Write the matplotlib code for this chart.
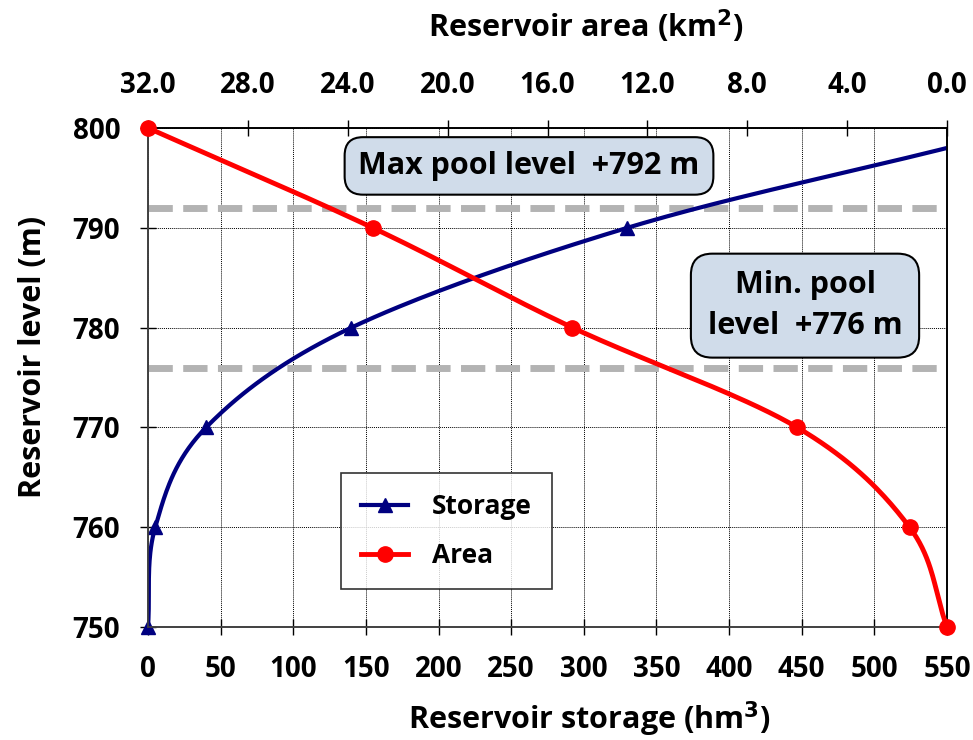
import matplotlib
matplotlib.use("Agg")
import matplotlib.pyplot as plt
import numpy as np

plt.rcParams["font.family"] = ["Open Sans", "DejaVu Sans"]
plt.rcParams["font.weight"] = "bold"

# reservoir level (m) for each curve
level = [750, 760, 770, 780, 790, 798]
storage = [0, 5, 40, 140, 330, 550]  # hm3, last point has no marker
area_level = [800, 790, 780, 770, 760, 750]
area = [32.0, 23.0, 15.0, 6.0, 1.5, 0.0]  # km2

max_pool = 792
min_pool = 776


def smooth(x, y, n=40):
    # catmull-rom, close to excel's smoothed line
    x = np.asarray(x, float)
    y = np.asarray(y, float)
    px = np.concatenate([[2 * x[0] - x[1]], x, [2 * x[-1] - x[-2]]])
    py = np.concatenate([[2 * y[0] - y[1]], y, [2 * y[-1] - y[-2]]])
    xs, ys = [], []
    t = np.linspace(0, 1, n)
    for i in range(1, len(px) - 2):
        for p, out in ((px, xs), (py, ys)):
            p0, p1, p2, p3 = p[i - 1], p[i], p[i + 1], p[i + 2]
            out.append(0.5 * ((2 * p1) + (-p0 + p2) * t
                              + (2 * p0 - 5 * p1 + 4 * p2 - p3) * t ** 2
                              + (-p0 + 3 * p1 - 3 * p2 + p3) * t ** 3))
    return np.concatenate(xs), np.concatenate(ys)


fig = plt.figure(figsize=(9.73, 7.40), dpi=100)
ax = fig.add_axes([148 / 973, 1 - 627 / 740, 799 / 973, 499 / 740])
ax2 = ax.twiny()

navy = "#000080"
red = "#ff0000"

sx, sy = smooth(storage, level)
ax.plot(sx, sy, color=navy, lw=3, zorder=4)
ax.plot(storage[:-1], level[:-1], ls="none", marker="^", ms=10, color=navy,
        zorder=5, clip_on=False)

ax.axhline(max_pool, color="#b3b3b3", lw=5, dashes=(3.5, 1.5), zorder=2)
ax.axhline(min_pool, color="#b3b3b3", lw=5, dashes=(3.5, 1.5), zorder=2)

ax.set_xlim(0, 550)
ax.set_ylim(750, 800)
ax.set_xticks(np.arange(0, 551, 50))
ax.set_yticks(np.arange(750, 801, 10))
ax.grid(True, color="black", ls=(0, (1, 1)), lw=0.7)
ax.tick_params(axis="x", direction="inout", length=12, width=1, labelsize=20, pad=14)
ax.tick_params(axis="y", direction="inout", length=12, width=1, labelsize=20, pad=14)
ax.set_xlabel("Reservoir storage (hm$^{\\mathbf{3}}$)", fontsize=22, fontweight="bold", labelpad=11)
ax.set_ylabel("Reservoir level (m)", fontsize=22, fontweight="bold", labelpad=18)
ax.xaxis.label.set_x(0.552)
ax.yaxis.label.set_y(0.541)

ax2x, ax2y = smooth(area, area_level)
ax2.plot(ax2x, ax2y, color=red, lw=3.5, zorder=4)
ax2.plot(area, area_level, ls="none", marker="o", ms=11, color=red, zorder=5, clip_on=False)
ax2.set_xlim(32, 0)
ax2.set_xticks(np.arange(32, -1, -4))
ax2.set_xticklabels([f"{v:.1f}" for v in np.arange(32, -1, -4)])
ax2.tick_params(axis="x", direction="inout", length=12, width=1, labelsize=20, pad=14)
ax2.set_xlabel("Reservoir area (km$^{\\mathbf{2}}$)", fontsize=22, fontweight="bold", labelpad=24)
ax2.xaxis.label.set_x(0.548)

for a in (ax, ax2):
    for s in a.spines.values():
        s.set_linewidth(1.2)
    for s in ("left", "bottom"):
        a.spines[s].set_color("#404040")

# legend
h1, = ax.plot([], [], color=navy, lw=3, marker="^", ms=10, label="Storage")
h2, = ax.plot([], [], color=red, lw=3.5, marker="o", ms=11, label="Area")
leg = ax.legend(handles=[h1, h2], loc="upper left", bbox_to_anchor=(0.2416, 0.3086),
                borderaxespad=0, fontsize=19, frameon=True, fancybox=False,
                edgecolor="black", handlelength=1.8, borderpad=0.75, labelspacing=0.85,
                handletextpad=0.9)
leg.get_frame().set_linewidth(1.2)
leg.set_zorder(6)

box = dict(boxstyle="round,pad=0.45,rounding_size=0.6", fc="#d0dcea", ec="black", lw=1.5)
ax.text(381 / 1.4527, 796.2, "Max pool level  +792 m", fontsize=22, fontweight="bold",
        ha="center", va="center", bbox=box, zorder=7)
box2 = dict(boxstyle="round,pad=0.55,rounding_size=0.7", fc="#d0dcea", ec="black", lw=1.5)
ax.text(657 / 1.4527, 782.2, "Min. pool\nlevel  +776 m", fontsize=22, fontweight="bold",
        ha="center", va="center", bbox=box2, linespacing=1.45, zorder=7)

fig.savefig("out.png", dpi=100)
